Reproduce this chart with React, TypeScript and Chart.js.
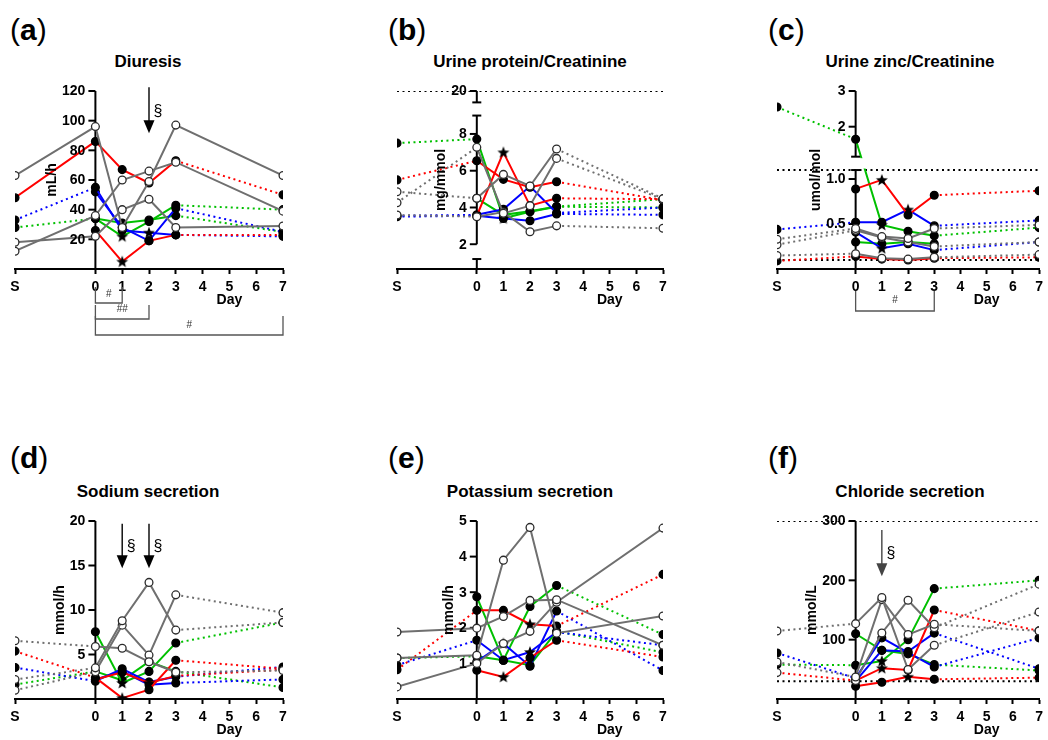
import React, { useEffect, useRef } from 'react';
import { Chart, registerables, LinearScale } from 'chart.js';

Chart.register(...registerables);

// A linear scale that can be split into several value segments (broken axis)
class BrokenLinearScale extends (LinearScale as any) {
  static id = 'brokenLinear';
  static defaults = (LinearScale as any).defaults;
  _segs(): number[][] {
    const s = (this as any).options.segments;
    return s && s.length ? s : [[(this as any).min, (this as any).max, 0, 1]];
  }
  _frac(v: number): number {
    const segs = this._segs();
    const first = segs[0];
    if (v < first[0]) return first[2] + ((v - first[0]) / (first[1] - first[0])) * (first[3] - first[2]);
    for (let i = 0; i < segs.length; i++) {
      const [v0, v1, f0, f1] = segs[i];
      if (v >= v0 && v <= v1) return f0 + ((v - v0) / (v1 - v0)) * (f1 - f0);
      const next = segs[i + 1];
      if (next && v > v1 && v < next[0]) return f1 + ((v - v1) / (next[0] - v1)) * (next[2] - f1);
    }
    const last = segs[segs.length - 1];
    return last[2] + ((v - last[0]) / (last[1] - last[0])) * (last[3] - last[2]);
  }
  getPixelForValue(value: number): number {
    const self = this as any;
    const f = this._frac(value);
    return self.bottom - f * (self.bottom - self.top);
  }
  getValueForPixel(pixel: number): number {
    const self = this as any;
    const f = (self.bottom - pixel) / (self.bottom - self.top);
    for (const [v0, v1, f0, f1] of this._segs()) {
      if (f >= f0 && f <= f1) return v0 + ((f - f0) / (f1 - f0)) * (v1 - v0);
    }
    return self.min + f * (self.max - self.min);
  }
}
Chart.register(BrokenLinearScale as any);

const FONT = "'Liberation Sans', Arial, Helvetica, sans-serif";
const DOT = [2, 3.5];

// ---------- shared axis data ----------
const X_POSITIONS = [-3, 0, 1, 2, 3, 7]; // S, day 0, 1, 2, 3, 7
const X_TICK_VALUES = [-3, 0, 1, 2, 3, 4, 5, 6, 7];
const X_TICK_LABELS = ['S', '0', '1', '2', '3', '4', '5', '6', '7'];
const SERIES_COLORS = ['gray', 'gray', 'gray', 'red', 'red', 'blue', 'blue', 'green', 'green'];
const PALETTE: Record<string, string> = { gray: '#6f6f6f', red: '#ff0000', green: '#00c000', blue: '#0000ff' };

// ---------- (a) Diuresis ----------
const diuresisTicks = [20, 40, 60, 80, 100, 120];
const diuresisTickLabels = ['20', '40', '60', '80', '100', '120'];
const diuresisValues = [
  [63, 96, 28, 59, 97, 63],
  [12, 36, 60, 66, 72, 39],
  [18, 22, 40, 47, 28, 29],
  [48, 86, 67, 58, 73, 50],
  [null, 26, 5, 19, 23, 23],
  [33, 55, 26, 24.5, 23, 22],
  [null, 52, 28, 19, 41, 25],
  [28, 34, 31, 33, 36, 25],
  [null, 34, 22, 32, 43, 40],
];
const diuresisMarkers = ['oooooo', 'oooooo', 'oooooo', 'ffffff', '-f*fff', 'fff*ff', '-fffff', 'ffffff', '-f*fff'];
const diuresisStyles = ['sssss', 'sssss', 'sssss', 'ssssd', 'ssssd', 'dsssd', 'dsssd', 'dsssd', 'dsssd'];

// ---------- (b) Urine protein/Creatinine ----------
const proteinTicks = [2, 4, 6, 8, 20];
const proteinTickLabels = ['2', '4', '6', '8', '20'];
const proteinRefs = [20];
const proteinValues = [
  [4.86, 4.5, 5.8, 5.17, 7.18, 4.48],
  [4.26, 7.27, 3.68, 4.1, 6.67, 4.45],
  [3.59, 3.5, 3.75, 2.68, 3.0, 2.87],
  [5.5, 6.54, 5.53, 5.1, 5.4, 4.4],
  [null, 3.55, 7.0, 4.1, 4.5, 4.45],
  [3.55, 3.6, 3.9, 5.15, 3.7, 4.0],
  [3.5, 3.55, 3.4, 3.28, 3.65, 3.6],
  [7.5, 7.72, 3.41, 3.77, 4.04, 4.0],
  [null, 4.5, 3.6, 3.8, 4.05, 4.45],
];
const proteinMarkers = ['oooooo', 'oooooo', 'oooooo', 'ffffff', '-f*fff', 'ffffff', 'ffffff', 'ff*fff', '-fffff'];
const proteinStyles = ['dsssd', 'dsssd', 'dsssd', 'dsssd', 'dsssd', 'dsssd', 'dsssd', 'dsssd', 'dsssd'];

// ---------- (c) Urine zinc/Creatinine ----------
const zincTicks = [0.5, 1.0, 2, 3];
const zincTickLabels = ['0.5', '1.0', '2', '3'];
const zincRefs = [1.1, 0.1];
const zincValues = [
  [0.33, 0.45, 0.36, 0.34, 0.45, 0.49],
  [0.27, 0.43, 0.35, 0.3, 0.25, 0.3],
  [0.15, 0.17, 0.12, 0.11, 0.13, 0.16],
  [null, 0.89, 0.99, 0.6, 0.82, 0.87],
  [0.09, 0.14, 0.11, 0.1, 0.12, 0.13],
  [0.44, 0.52, 0.52, 0.66, 0.48, 0.54],
  [null, 0.41, 0.23, 0.28, 0.21, 0.3],
  [2.55, 1.65, 0.49, 0.42, 0.37, 0.46],
  [null, 0.3, 0.28, 0.3, 0.28, null],
];
const zincMarkers = ['oooooo', 'oooooo', 'oooooo', '-f*fff', 'ffffff', 'fff*ff', '-f*fff', 'ff*fff', '-fffff'];
const zincStyles = ['dsssd', 'dsssd', 'dsssd', 'dsssd', 'dsssd', 'dsssd', 'dsssd', 'dsssd', 'dsssd'];

// ---------- (d) Sodium secretion ----------
const sodiumTicks = [5, 10, 15, 20];
const sodiumTickLabels = ['5', '10', '15', '20'];
const sodiumValues = [
  [6.54, 5.9, 5.7, 4.18, 3.0, 3.2],
  [2.19, 3.5, 8.8, 13.1, 7.74, 8.6],
  [0.98, 3.05, 8.3, 4.93, 11.7, 9.7],
  [5.38, 2.4, 0.1, 1.04, 4.35, 3.4],
  [null, 2.2, 3.0, 1.8, 2.6, 3.3],
  [3.54, 2.0, 3.4, 1.9, 2.5, 3.6],
  [null, 2.2, 3.1, 1.6, 1.8, 2.2],
  [null, 7.55, 1.8, 3.1, 6.3, 8.6],
  [1.62, 3.1, 2.1, 4.2, 3.1, 1.3],
];
const sodiumMarkers = ['oooooo', 'oooooo', 'oooooo', 'ff*fff', '-ff*ff', 'ffffff', '-fffff', '-f*fff', 'ffffff'];
const sodiumStyles = ['dsssd', 'dsssd', 'dsssd', 'dsssd', 'dsssd', 'dsssd', 'dsssd', 'dsssd', 'dsssd'];

// ---------- (e) Potassium secretion ----------
const potassiumTicks = [1, 2, 3, 4, 5];
const potassiumTickLabels = ['1', '2', '3', '4', '5'];
const potassiumValues = [
  [1.88, 1.99, 2.32, 2.77, 2.79, 1.51],
  [1.15, 1.23, 3.9, 4.82, 1.85, 2.33],
  [0.34, 1.0, 1.56, 1.9, 2.72, 4.8],
  [0.82, 2.49, 2.49, 2.1, 2.05, 3.5],
  [null, 0.81, 0.62, 1.16, 1.65, 1.18],
  [0.95, 1.65, 1.09, 1.32, 1.88, 1.51],
  [null, 1.05, 1.56, 0.92, 2.47, 0.8],
  [null, 2.87, 1.09, 2.6, 3.19, 1.81],
  [1.15, 1.2, 1.09, 0.95, 1.9, 1.31],
];
const potassiumMarkers = ['oooooo', 'oooooo', 'oooooo', 'fff*ff', '-f*fff', 'fff*ff', '-f*fff', '-fffff', 'ffffff'];
const potassiumStyles = ['sssss', 'sssss', 'sssss', 'dsssd', 'dsssd', 'dsssd', 'dsssd', 'dsssd', 'dsssd'];

// ---------- (f) Chloride secretion ----------
const chlorideTicks = [100, 200, 300];
const chlorideTickLabels = ['100', '200', '300'];
const chlorideRefs = [300, 30];
const chlorideValues = [
  [114.7, 127, 171, 49.6, 90.6, 146.7],
  [62.4, 37, 167.5, 108.6, 126, 114.7],
  [null, 31, 111.3, 166.4, 120, 193.6],
  [44.5, 31, 52, 49, 150, 115],
  [null, 21.4, 28.2, 37.4, 33.2, 36],
  [77.6, 35, 103, 78, 54, 103],
  [null, 30, 82, 80, 111, 51],
  [58, 57, 64, 100, 186, 200],
  [null, 110, 82, 76, 58, 48],
];
const chlorideMarkers = ['oooooo', 'oooooo', '-ooooo', 'of*fff', '-ff*ff', 'ffffff', '-fffff', 'ff*fff', '-fffff'];
const chlorideStyles = ['dsssd', 'dsssd', 'dsssd', 'dsssd', 'dsssd', 'dsssd', 'dsssd', 'dsssd', 'dsssd'];

// ---------- panel layout ----------
const PANELS: any[] = [
  {
    letter: 'a', title: 'Diuresis', yTitle: 'mL/h', left: 0, top: 50, width: 295, height: 294, padRight: 12, padBottom: 45,
    yMin: 0, yMax: 120, ticks: diuresisTicks, tickLabels: diuresisTickLabels, refs: [],
    values: diuresisValues, markers: diuresisMarkers, styles: diuresisStyles,
    arrows: [{ x: 2, from: 122.5, to: 91.5, color: '#000' }],
    brackets: [
      { from: 0, to: 1, label: '#', top: 18, base: 34, labelY: 25 },
      { from: 0, to: 2, label: '##', top: 36, base: 50, labelY: 40 },
      { from: 0, to: 7, label: '#', top: 47, base: 66, labelY: 56 },
    ],
  },
  {
    letter: 'b', title: 'Urine protein/Creatinine', yTitle: 'mg/mmol', left: 382, top: 50, width: 293, height: 294, padRight: 12, padBottom: 45,
    yMin: 0, yMax: 20, ticks: proteinTicks, tickLabels: proteinTickLabels, refs: proteinRefs,
    segments: [[0, 0.5, 0, 0.056], [2, 9, 0.139, 0.862], [19.4, 20, 0.936, 1]], caps: [0.5, 9, 19.4],
    values: proteinValues, markers: proteinMarkers, styles: proteinStyles, arrows: [], brackets: [],
  },
  {
    letter: 'c', title: 'Urine zinc/Creatinine', yTitle: 'umol/mol', left: 762, top: 50, width: 286, height: 294, padRight: 4, padBottom: 45,
    yMin: 0, yMax: 3, ticks: zincTicks, tickLabels: zincTickLabels, refs: zincRefs,
    segments: [[0, 1.1, 0, 0.556], [1.16, 3, 0.631, 1]], caps: [1.1, 1.16],
    values: zincValues, markers: zincMarkers, styles: zincStyles, arrows: [],
    brackets: [{ from: 0, to: 3, label: '#', top: 22, base: 42, labelY: 31 }],
  },
  {
    letter: 'd', title: 'Sodium secretion', yTitle: 'mmol/h', left: 0, top: 480, width: 295, height: 259, padRight: 12, padBottom: 10,
    yMin: 0, yMax: 20, ticks: sodiumTicks, tickLabels: sodiumTickLabels, refs: [],
    values: sodiumValues, markers: sodiumMarkers, styles: sodiumStyles,
    arrows: [{ x: 1, from: 19.7, to: 14.7, color: '#000' }, { x: 2, from: 19.7, to: 14.7, color: '#000' }], brackets: [],
  },
  {
    letter: 'e', title: 'Potassium secretion', yTitle: 'mmol/h', left: 382, top: 480, width: 293, height: 259, padRight: 12, padBottom: 10,
    yMin: 0, yMax: 5, ticks: potassiumTicks, tickLabels: potassiumTickLabels, refs: [],
    values: potassiumValues, markers: potassiumMarkers, styles: potassiumStyles, arrows: [], brackets: [],
  },
  {
    letter: 'f', title: 'Chloride secretion', yTitle: 'mmol/L', left: 762, top: 480, width: 286, height: 259, padRight: 4, padBottom: 10,
    yMin: 0, yMax: 300, ticks: chlorideTicks, tickLabels: chlorideTickLabels, refs: chlorideRefs,
    values: chlorideValues, markers: chlorideMarkers, styles: chlorideStyles,
    arrows: [{ x: 1, from: 285, to: 207, color: '#444' }], brackets: [],
  },
];

function makeStar(): HTMLCanvasElement {
  const c = document.createElement('canvas');
  c.width = 14;
  c.height = 14;
  const g = c.getContext('2d')!;
  g.fillStyle = '#000';
  g.beginPath();
  for (let i = 0; i < 10; i++) {
    const r = i % 2 === 0 ? 6.3 : 2.7;
    const a = -Math.PI / 2 + (i * Math.PI) / 5;
    const px = 7 + r * Math.cos(a);
    const py = 7.4 + r * Math.sin(a);
    if (i === 0) g.moveTo(px, py);
    else g.lineTo(px, py);
  }
  g.closePath();
  g.fill();
  return c;
}

function makeAxisPlugin(p: any) {
  const segsOf = () => (p.segments ? p.segments : [[p.yMin, p.yMax, 0, 1]]);
  return {
    id: 'panelAxes',
    beforeDatasetsDraw(chart: any) {
      const ctx = chart.ctx;
      const xs = chart.scales.x;
      const ys = chart.scales.y;
      const x0 = xs.getPixelForValue(0);
      ctx.save();
      ctx.strokeStyle = '#000';
      ctx.lineWidth = 2;
      ctx.lineCap = 'butt';
      for (const s of segsOf()) {
        ctx.beginPath();
        ctx.moveTo(x0, ys.getPixelForValue(s[0]));
        ctx.lineTo(x0, ys.getPixelForValue(s[1]));
        ctx.stroke();
      }
      for (const t of ys.ticks) {
        const y = ys.getPixelForValue(t.value);
        ctx.beginPath();
        ctx.moveTo(x0 - 7, y);
        ctx.lineTo(x0, y);
        ctx.stroke();
      }
      ctx.restore();
    },
    afterDatasetsDraw(chart: any) {
      const ctx = chart.ctx;
      const xs = chart.scales.x;
      const ys = chart.scales.y;
      const area = chart.chartArea;
      const x0 = xs.getPixelForValue(0);
      ctx.save();
      // gaps of broken axis
      if (p.segments) {
        const segs = p.segments;
        ctx.fillStyle = '#fff';
        for (let i = 1; i < segs.length; i++) {
          const yTop = ys.getPixelForValue(segs[i][0]);
          const yBot = ys.getPixelForValue(segs[i - 1][1]);
          ctx.fillRect(area.left - 10, yTop + 1.5, area.right - area.left + 20, yBot - yTop - 3);
        }
      }
      ctx.strokeStyle = '#000';
      ctx.lineWidth = 2;
      for (const v of p.caps || []) {
        const y = ys.getPixelForValue(v);
        ctx.beginPath();
        ctx.moveTo(x0 - 4.5, y);
        ctx.lineTo(x0 + 4.5, y);
        ctx.stroke();
      }
      // tick labels
      ctx.fillStyle = '#000';
      ctx.font = `bold 14px ${FONT}`;
      ctx.textAlign = 'right';
      ctx.textBaseline = 'middle';
      let widest = 0;
      ys.ticks.forEach((t: any, i: number) => {
        const label = p.tickLabels[i] ?? String(t.value);
        ctx.fillText(label, x0 - 10, ys.getPixelForValue(t.value) + 0.5);
        widest = Math.max(widest, ctx.measureText(label).width);
      });
      // y title
      ctx.save();
      ctx.translate(x0 - 10 - widest - 10, (area.top + area.bottom) / 2);
      ctx.rotate(-Math.PI / 2);
      ctx.font = `bold 14px ${FONT}`;
      ctx.textAlign = 'center';
      ctx.textBaseline = 'middle';
      ctx.fillText(p.yTitle, 0, 0);
      ctx.restore();
      // x title
      ctx.font = `bold 14px ${FONT}`;
      ctx.textAlign = 'center';
      ctx.textBaseline = 'middle';
      ctx.fillText('Day', xs.getPixelForValue(5), area.bottom + 31);
      // arrows
      for (const a of p.arrows || []) {
        const x = xs.getPixelForValue(a.x);
        const y1 = ys.getPixelForValue(a.from);
        const y2 = ys.getPixelForValue(a.to);
        ctx.strokeStyle = a.color;
        ctx.fillStyle = a.color;
        ctx.lineWidth = 1.4;
        ctx.beginPath();
        ctx.moveTo(x, y1);
        ctx.lineTo(x, y2 - 10);
        ctx.stroke();
        ctx.beginPath();
        ctx.moveTo(x - 5.5, y2 - 13);
        ctx.lineTo(x + 5.5, y2 - 13);
        ctx.lineTo(x, y2);
        ctx.closePath();
        ctx.fill();
        ctx.fillStyle = '#000';
        ctx.font = `16px ${FONT}`;
        ctx.textAlign = 'center';
        ctx.fillText('§', x + 9, (y1 + y2) / 2 + 1);
      }
      // brackets
      for (const b of p.brackets || []) {
        const xa = xs.getPixelForValue(b.from);
        const xb = xs.getPixelForValue(b.to);
        const yt = area.bottom + b.top;
        const yb = area.bottom + b.base;
        ctx.strokeStyle = '#555';
        ctx.lineWidth = 1.3;
        ctx.beginPath();
        ctx.moveTo(xa, yt);
        ctx.lineTo(xa, yb);
        ctx.lineTo(xb, yb);
        ctx.lineTo(xb, yt);
        ctx.stroke();
        ctx.fillStyle = '#333';
        ctx.font = `10px ${FONT}`;
        ctx.textAlign = 'center';
        ctx.fillText(b.label, (xa + xb) / 2, area.bottom + b.labelY);
      }
      ctx.restore();
    },
  };
}

function PanelChart({ p }: { p: any }) {
  const ref = useRef<HTMLCanvasElement | null>(null);
  useEffect(() => {
    const canvas = ref.current;
    if (!canvas) return;
    const star = makeStar();
    const datasets: any[] = [];
    p.values.forEach((vals: (number | null)[], si: number) => {
      const color = PALETTE[SERIES_COLORS[si]];
      const mk: string = p.markers[si];
      const st: string = p.styles[si];
      datasets.push({
        data: vals.map((v, i) => ({ x: X_POSITIONS[i], y: v })),
        borderColor: color,
        backgroundColor: color,
        borderWidth: 2,
        fill: false,
        tension: 0,
        pointRadius: 3.9,
        pointHoverRadius: 3.9,
        pointBorderWidth: 1.3,
        pointStyle: (c: any) => (mk[c.dataIndex] === '*' ? star : 'circle'),
        pointBackgroundColor: (c: any) => (mk[c.dataIndex] === 'o' ? '#ffffff' : '#000000'),
        pointBorderColor: (c: any) => (mk[c.dataIndex] === 'o' ? '#2a2a2a' : '#000000'),
        segment: { borderDash: (c: any) => (st[c.p0DataIndex] === 'd' ? DOT : undefined) },
      });
    });
    for (const v of p.refs) {
      datasets.push({
        data: [{ x: -3, y: v }, { x: 7, y: v }],
        borderColor: '#000',
        borderWidth: 2,
        borderDash: DOT,
        pointRadius: 0,
        fill: false,
      });
    }
    const chart = new Chart(canvas, {
      type: 'line',
      data: { datasets },
      options: {
        responsive: false,
        animation: false,
        devicePixelRatio: 1,
        events: [],
        layout: { padding: { left: 15, top: 41, right: p.padRight, bottom: p.padBottom } },
        plugins: { legend: { display: false }, tooltip: { enabled: false }, title: { display: false } },
        scales: {
          x: {
            type: 'linear',
            min: -3,
            max: 7,
            position: 'bottom',
            afterBuildTicks: (s: any) => {
              s.ticks = X_TICK_VALUES.map((v) => ({ value: v }));
            },
            afterFit: (s: any) => {
              s.height = 30;
            },
            ticks: {
              autoSkip: false,
              maxRotation: 0,
              padding: 5,
              color: '#000',
              font: { family: FONT, size: 14, weight: 'bold' },
              callback: (_v: any, i: number) => X_TICK_LABELS[i],
            },
            grid: { display: true, drawOnChartArea: false, drawTicks: true, tickLength: 5, tickWidth: 2, tickColor: '#000' },
            border: { display: true, color: '#000', width: 2 },
          },
          y: {
            type: 'brokenLinear',
            min: p.yMin,
            max: p.yMax,
            display: false,
            segments: p.segments,
            afterBuildTicks: (s: any) => {
              s.ticks = p.ticks.map((v: number) => ({ value: v }));
            },
          } as any,
        },
      } as any,
      plugins: [makeAxisPlugin(p)],
    });
    return () => chart.destroy();
  }, [p]);
  return (
    <canvas
      ref={ref}
      width={p.width}
      height={p.height}
      style={{ position: 'absolute', left: p.left, top: p.top, width: p.width, height: p.height }}
    />
  );
}

const TITLE_CENTERS = [148, 530, 910];

export default function App() {
  return (
    <div style={{ position: 'absolute', left: 0, top: 0, width: 1048, height: 740, overflow: 'hidden', background: '#fff', fontFamily: FONT }}>
      {PANELS.map((p, i) => {
        const col = i % 3;
        const row = Math.floor(i / 3);
        const labelLeft = [10, 388, 768][col];
        return (
          <React.Fragment key={p.letter}>
            <div style={{ position: 'absolute', left: labelLeft, top: row === 0 ? 13 : 441, fontSize: 30, lineHeight: '34px', color: '#000' }}>
              (<b>{p.letter}</b>)
            </div>
            <div
              style={{
                position: 'absolute',
                left: TITLE_CENTERS[col] - 150,
                width: 300,
                top: row === 0 ? 52 : 482,
                textAlign: 'center',
                fontSize: 17,
                fontWeight: 'bold',
                lineHeight: '20px',
                color: '#000',
              }}
            >
              {p.title}
            </div>
            <PanelChart p={p} />
          </React.Fragment>
        );
      })}
    </div>
  );
}
